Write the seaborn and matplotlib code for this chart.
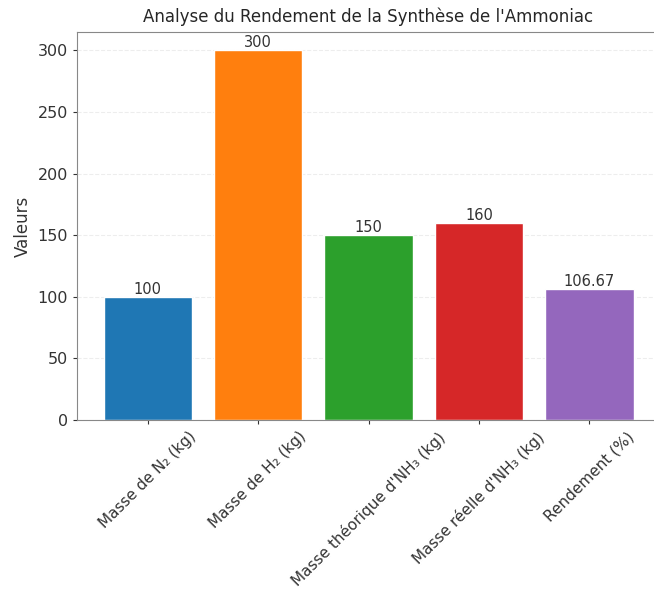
import pandas as pd
import matplotlib.pyplot as plt
import seaborn as sns

# data
categories = ["Masse de N₂ (kg)", "Masse de H₂ (kg)", "Masse théorique d'NH₃ (kg)",
              "Masse réelle d'NH₃ (kg)", "Rendement (%)"]
valeurs = [100, 300, 150, 160, 106.67]
couleurs = ["#1f77b4", "#ff7f0e", "#2ca02c", "#d62728", "#9467bd"]

df = pd.DataFrame({"categorie": categories, "valeur": valeurs})

sns.set_style("white")
plt.rcParams['font.family'] = ['DejaVu Sans']

fig = plt.figure(figsize=(6.54, 5.99), dpi=100)
ax = fig.add_axes([77/654, 1 - 420/599, (660 - 77)/654, (420 - 32)/599])

sns.barplot(data=df, x="categorie", y="valeur", hue="categorie",
            palette=couleurs, width=0.8, saturation=1, legend=False, ax=ax)

for c in ax.containers:
    ax.bar_label(c, fontsize=10.5, color="#333333", padding=0)

ax.set_ylim(0, 315)
ax.set_xlim(-0.64, 4.64)
ax.set_title("Analyse du Rendement de la Synthèse de l'Ammoniac", fontsize=12, pad=7)
ax.set_ylabel("Valeurs", fontsize=12, color="#333333")
ax.set_xlabel("")
ax.yaxis.grid(True, linestyle="--", alpha=0.35)
ax.set_axisbelow(True)
ax.tick_params(axis="y", labelsize=11.5, left=True, length=3, colors="#333333")
ax.tick_params(axis="x", labelsize=11, bottom=True, length=3, colors="#333333")
plt.setp(ax.get_xticklabels(), rotation=45, ha="center")
for s in ax.spines.values():
    s.set_color("#888888")

fig.savefig("out.png", dpi=100)
